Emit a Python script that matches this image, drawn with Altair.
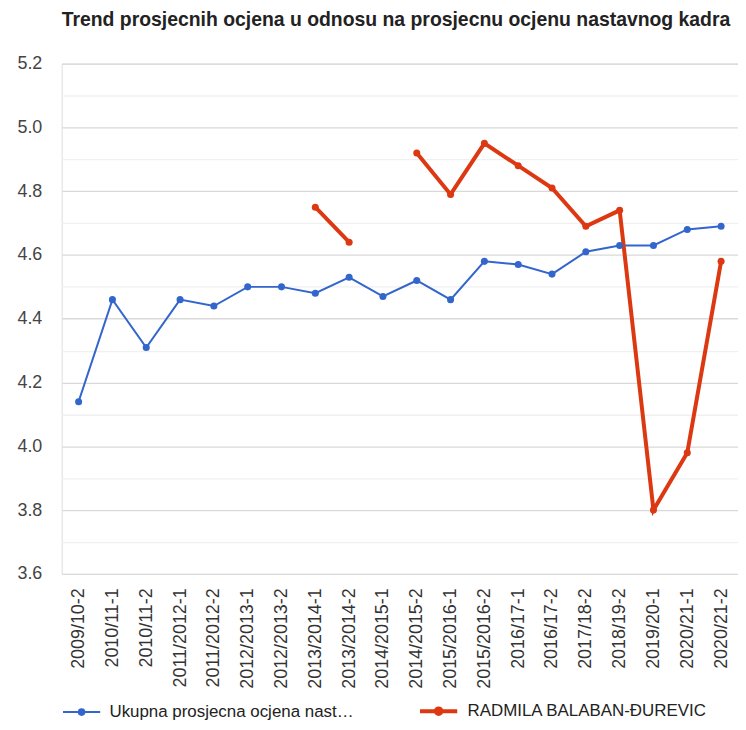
import altair as alt
import pandas as pd

categories = ["2009/10-2", "2010/11-1", "2010/11-2", "2011/2012-1", "2011/2012-2",
              "2012/2013-1", "2012/2013-2", "2013/2014-1", "2013/2014-2", "2014/2015-1",
              "2014/2015-2", "2015/2016-1", "2015/2016-2", "2016/17-1", "2016/17-2",
              "2017/18-2", "2018/19-2", "2019/20-1", "2020/21-1", "2020/21-2"]
ukupna = [4.14, 4.46, 4.31, 4.46, 4.44, 4.50, 4.50, 4.48, 4.53, 4.47,
          4.52, 4.46, 4.58, 4.57, 4.54, 4.61, 4.63, 4.63, 4.68, 4.69]
radmila = [None, None, None, None, None, None, None, 4.75, 4.64, None,
           4.92, 4.79, 4.95, 4.88, 4.81, 4.69, 4.74, 3.80, 3.98, 4.58]
series_names = ["Ukupna prosjecna ocjena nastavnog kadra", "RADMILA BALABAN-ĐUREVIC"]
legend_short = "Ukupna prosjecna ocjena nast…"
y_ticks = [3.6, 3.7, 3.8, 3.9, 4.0, 4.1, 4.2, 4.3, 4.4, 4.5, 4.6, 4.7, 4.8, 4.9, 5.0, 5.1, 5.2]

rows = []
for i, c in enumerate(categories):
    rows.append({"cat": c, "series": series_names[0], "value": ukupna[i]})
    rows.append({"cat": c, "series": series_names[1], "value": radmila[i]})
df = pd.DataFrame(rows)

FONT = "Liberation Sans, Arial"
SYMBOL = "M-1,0L1,0M-0.15,0A0.15,0.15 0 1,1 0.15,0A0.15,0.15 0 1,1 -0.15,0"


def legend_cfg():
    return alt.Legend(orient="none", legendX=0, legendY=630,
                      direction="horizontal", title=None,
                      labelFontSize=17, labelColor="#222", labelFont=FONT, labelLimit=400,
                      symbolType=SYMBOL, symbolSize=1400, columnPadding=58, labelOffset=8,
                      labelExpr=f"datum.label == '{series_names[0]}' ? '{legend_short}' : datum.label")


color = alt.Color("series:N",
                  scale=alt.Scale(domain=series_names, range=["#3366cc", "#dc3912"]),
                  legend=legend_cfg())
sw = alt.StrokeWidth("series:N", scale=alt.Scale(domain=series_names, range=[2, 4]),
                     legend=legend_cfg())

x = alt.X("cat:N", sort=categories, title=None,
          scale=alt.Scale(paddingInner=0, paddingOuter=0.5),
          axis=alt.Axis(labelAngle=-90, labelFontSize=18, labelColor="#333", labelFont=FONT,
                        labelPadding=14, ticks=False, domain=False, grid=False, labelLimit=200))
y = alt.Y("value:Q", title=None,
          scale=alt.Scale(domain=[3.6, 5.2], nice=False, zero=False),
          axis=alt.Axis(values=y_ticks, labelFontSize=18, labelColor="#444", labelFont=FONT,
                        labelPadding=20, ticks=False, domain=False,
                        labelExpr="round(datum.value*10) % 2 == 0 ? format(datum.value, '.1f') : ''",
                        gridColor={"condition": {"test": "round(datum.value*10) % 2 == 0", "value": "#d9d9d9"},
                                   "value": "#f0f0f0"},
                        gridWidth=1.3))

base = alt.Chart(df)
lines = base.mark_line(invalid="break-paths-show-domains").encode(
    x=x, y=y, color=color, strokeWidth=sw)
points = base.transform_filter("isValid(datum.value)").mark_circle(size=50, opacity=1).encode(
    x=x, y=y, color=alt.Color("series:N", scale=alt.Scale(domain=series_names, range=["#3366cc", "#dc3912"]), legend=None))

chart = alt.layer(lines, points).properties(
    width=680, height=513,
    title=alt.TitleParams("Trend prosjecnih ocjena u odnosu na prosjecnu ocjenu nastavnog kadra",
                          anchor="start", frame="group", fontSize=19.5, font=FONT, fontWeight="bold",
                          color="#222", offset=24)
).configure_view(stroke=None).configure(padding={"left": 8, "top": 0, "right": 0, "bottom": 0})

chart.save("out.html", embed_options={"renderer": "svg", "actions": False})
